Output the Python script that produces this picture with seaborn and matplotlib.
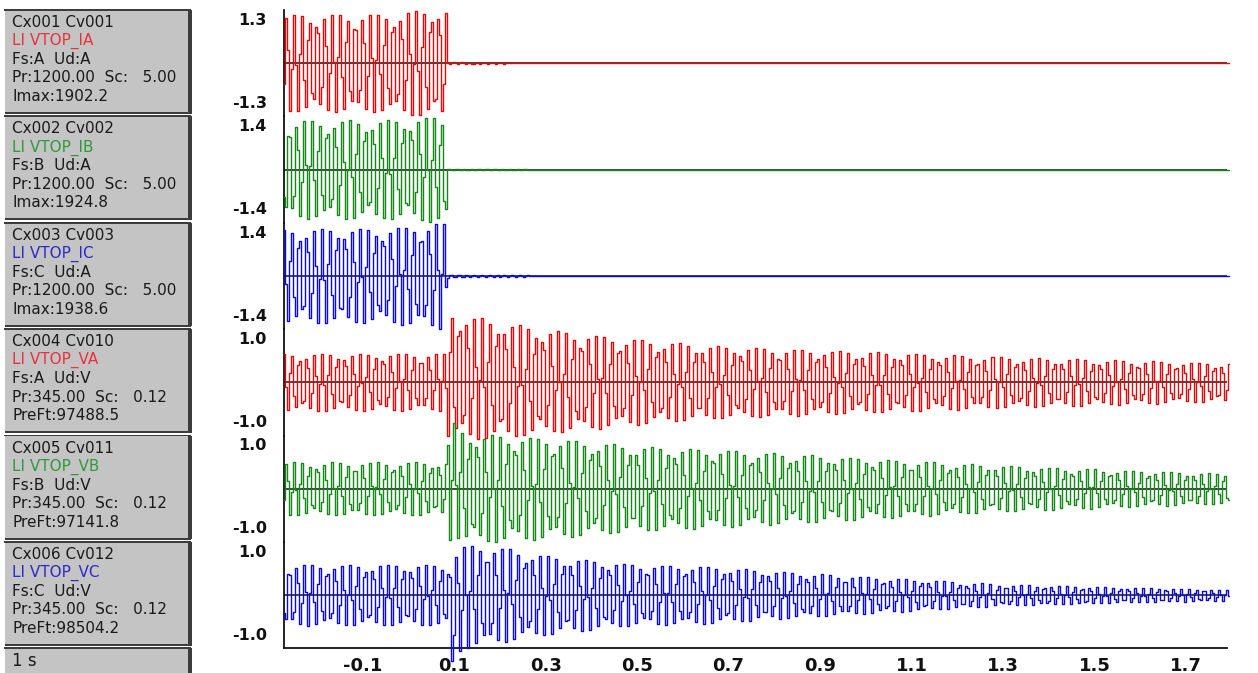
import numpy as np
import pandas as pd
import matplotlib
matplotlib.use("Agg")
import matplotlib.pyplot as plt
from matplotlib.patches import Rectangle
import seaborn as sns

# ---------------- data ----------------
FREQ = 60.0                    # Hz, power-system fundamental
T_START, T_END = -0.272, 1.79  # visible time window (s)
T_CLEAR = 0.083                # time the line currents drop to zero (s)

channel_names = ["LI VTOP_IA", "LI VTOP_IB", "LI VTOP_IC",
                 "LI VTOP_VA", "LI VTOP_VB", "LI VTOP_VC"]
y_limits = [1.3, 1.4, 1.4, 1.0, 1.0, 1.0]
phase_deg = [90, -30, 210, 210, 90, 330]

box_headers = ["Cx001 Cv001", "Cx002 Cv002", "Cx003 Cv003",
               "Cx004 Cv010", "Cx005 Cv011", "Cx006 Cv012"]
box_fs = ["Fs:A  Ud:A", "Fs:B  Ud:A", "Fs:C  Ud:A",
          "Fs:A  Ud:V", "Fs:B  Ud:V", "Fs:C  Ud:V"]
box_pr = ["Pr:1200.00  Sc:   5.00", "Pr:1200.00  Sc:   5.00", "Pr:1200.00  Sc:   5.00",
          "Pr:345.00  Sc:   0.12", "Pr:345.00  Sc:   0.12", "Pr:345.00  Sc:   0.12"]
box_last = ["Imax:1902.2", "Imax:1924.8", "Imax:1938.6",
            "PreFt:97488.5", "PreFt:97141.8", "PreFt:98504.2"]
time_base_label = "1 s"

x_tick_values = [-0.1, 0.1, 0.3, 0.5, 0.7, 0.9, 1.1, 1.3, 1.5, 1.7]
x_tick_labels = ["-0.1", "0.1", "0.3", "0.5", "0.7", "0.9", "1.1", "1.3", "1.5", "1.7"]
trigger_time = 0.0

# envelope (peak amplitude) before the clearing instant
pre_t = [-0.272, -0.15, -0.05, 0.02, 0.06, 0.083]
ia_pre = [1.18, 1.20, 1.20, 1.28, 1.34, 1.30]
ib_pre = [1.28, 1.30, 1.30, 1.35, 1.40, 1.38]
ic_pre = [1.22, 1.25, 1.25, 1.32, 1.40, 1.38]
va_pre = [0.54, 0.54, 0.54, 0.54, 0.54, 0.54]
vb_pre = [0.50, 0.50, 0.50, 0.50, 0.50, 0.50]
vc_pre = [0.57, 0.57, 0.57, 0.57, 0.57, 0.57]

# envelope after the clearing instant
post_t = [0.083, 0.10, 0.20, 0.30, 0.50, 0.64, 0.86, 1.30, 1.79]
ia_post = [0.04, 0.02, 0.01, 0.0, 0.0, 0.0, 0.0, 0.0, 0.0]
ib_post = [0.03, 0.02, 0.01, 0.0, 0.0, 0.0, 0.0, 0.0, 0.0]
ic_post = [0.05, 0.03, 0.02, 0.01, 0.0, 0.0, 0.0, 0.0, 0.0]
va_post = [1.20, 1.20, 1.10, 0.98, 0.80, 0.70, 0.62, 0.48, 0.36]
vb_post = [1.60, 1.05, 1.00, 0.95, 0.80, 0.75, 0.64, 0.43, 0.28]
vc_post = [1.45, 1.00, 0.90, 0.75, 0.57, 0.55, 0.42, 0.20, 0.10]
# decaying offset just after clearing (start value, time constant s)
dc_start = [0.0, 0.0, 0.0, 0.15, 0.60, -0.75]
dc_tau = [0.1, 0.1, 0.1, 0.10, 0.015, 0.015]

pre_env = [ia_pre, ib_pre, ic_pre, va_pre, vb_pre, vc_pre]
post_env = [ia_post, ib_post, ic_post, va_post, vb_post, vc_post]

colors = ["#e00808", "#138a16", "#0a0ae0", "#e00808", "#138a16", "#0a0ae0"]
label_colors = ["#e8323c", "#2e9a3a", "#2a2ac8", "#e8323c", "#2e9a3a", "#2a2ac8"]

# ---------------- figure ----------------
sns.set_style("white")
plt.rcParams["font.family"] = ["DejaVu Sans"]

W, H = 1258, 673
fig = plt.figure(figsize=(W / 100, H / 100), dpi=100)
fig.patch.set_facecolor("white")

AX_L, AX_R = 284, 1227
TOP0, PITCH = 10, 106.4

dt = 2.0 / 457.0
t = np.arange(T_START, T_END + dt, dt)
axes = []
for i in range(6):
    top = TOP0 + PITCH * i
    ax = fig.add_axes([AX_L / W, 1 - (top + PITCH) / H, (AX_R - AX_L) / W, PITCH / H])
    ax.set_facecolor("none")
    env = np.where(t < T_CLEAR, np.interp(t, pre_t, pre_env[i]),
                   np.interp(t, post_t, post_env[i]))
    dc = np.where(t < T_CLEAR, 0.0, dc_start[i] * np.exp(-(t - T_CLEAR) / dc_tau[i]))
    y = env * np.sin(2 * np.pi * FREQ * t + np.deg2rad(phase_deg[i])) + dc
    df = pd.DataFrame({"t": t, "v": y})
    ax.axhline(0, color="#101010", lw=1.1, zorder=1)
    sns.lineplot(data=df, x="t", y="v", ax=ax, color=colors[i], lw=1.0,
                 drawstyle="steps-mid", estimator=None, clip_on=False, zorder=3,
                 snap=True)
    ax.set_xlim(T_START, T_END)
    ax.set_ylim(-y_limits[i], y_limits[i])
    ax.set_xlabel("")
    ax.set_ylabel("")
    for s in ["top", "right", "bottom"]:
        ax.spines[s].set_visible(False)
    ax.spines["left"].set_color("#111111")
    ax.spines["left"].set_linewidth(1.3)
    ax.set_yticks([-y_limits[i], y_limits[i]])
    ax.set_yticklabels([])
    ax.tick_params(axis="y", direction="in", length=7, width=1.1, colors="#111111")
    ax.annotate(f"{y_limits[i]:.1f}", xy=(0, 1), xycoords="axes fraction",
                xytext=(-12.2, -7.4), textcoords="offset points", ha="right",
                va="center", fontsize=11.5, fontweight="bold", color="#111111")
    ax.annotate(f"-{y_limits[i]:.1f}", xy=(0, 0), xycoords="axes fraction",
                xytext=(-12.2, 9.4), textcoords="offset points", ha="right",
                va="center", fontsize=11.5, fontweight="bold", color="#111111")
    ax.set_xticks([])
    axes.append(ax)

# bottom time axis on the last channel
axb = axes[-1]
axb.spines["bottom"].set_visible(True)
axb.spines["bottom"].set_color("#111111")
axb.spines["bottom"].set_linewidth(1.3)
axb.set_xticks(x_tick_values)
axb.set_xticklabels(x_tick_labels)
axb.tick_params(axis="x", direction="inout", length=8, width=1.1, pad=2,
                labelsize=13, colors="#111111")
for lab in axb.get_xticklabels():
    lab.set_fontweight("bold")
axb.set_xticks([trigger_time], minor=True)
axb.tick_params(axis="x", which="minor", direction="inout", length=8, width=1.2,
                color="#e02020")

# ---------------- left information boxes ----------------
axl = fig.add_axes([0, 0, AX_L / W, 1])
axl.set_xlim(0, AX_L)
axl.set_ylim(H, 0)
axl.axis("off")

BOX_X0, BOX_X1 = 5, 188
for i in range(6):
    top = TOP0 + PITCH * i
    h = 102
    axl.add_patch(Rectangle((BOX_X0, top), BOX_X1 - BOX_X0, h, facecolor="#c4c4c4",
                            edgecolor="none", zorder=1))
    axl.add_patch(Rectangle((BOX_X1, top), 3.5, h + 1.5, facecolor="#3c3c3c",
                            edgecolor="none", zorder=2))
    axl.add_patch(Rectangle((BOX_X0 - 1, top - 1), BOX_X1 - BOX_X0 + 4, 1.8,
                            facecolor="#3c3c3c", edgecolor="none", zorder=2))
    axl.add_patch(Rectangle((BOX_X0, top + h), BOX_X1 - BOX_X0 + 3, 2.0,
                            facecolor="#3c3c3c", edgecolor="none", zorder=2))
    clip = Rectangle((BOX_X0, top), BOX_X1 - BOX_X0, h, transform=axl.transData)
    lines = [(box_headers[i], "#1a1a1a"), (channel_names[i], label_colors[i]),
             (box_fs[i], "#1a1a1a"), (box_pr[i], "#1a1a1a"), (box_last[i], "#1a1a1a")]
    for k, (txt, col) in enumerate(lines):
        tx = axl.text(12, top + 12.5 + 18.5 * k, txt, color=col, fontsize=11,
                      va="center", ha="left", zorder=3)
        tx.set_clip_path(clip)

# time base box
top = 648
axl.add_patch(Rectangle((BOX_X0, top), BOX_X1 - BOX_X0, H - top, facecolor="#c4c4c4",
                        edgecolor="none", zorder=1))
axl.add_patch(Rectangle((BOX_X1, top), 3.5, H - top, facecolor="#3c3c3c",
                        edgecolor="none", zorder=2))
axl.add_patch(Rectangle((BOX_X0 - 1, top - 1), BOX_X1 - BOX_X0 + 4, 1.8,
                        facecolor="#3c3c3c", edgecolor="none", zorder=2))
axl.text(12, 661, time_base_label, color="#1a1a1a", fontsize=12, va="center", ha="left")

fig.savefig("out.png", dpi=100, facecolor="white")
